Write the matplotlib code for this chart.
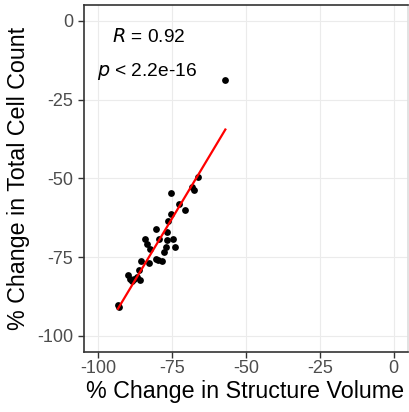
import numpy as np
import matplotlib
matplotlib.use("Agg")
import matplotlib.pyplot as plt

plt.rcParams['font.family'] = ['Liberation Sans', 'DejaVu Sans']

structure_volume = [-92.9, -93.4, -66.3, -75.5, -67.7, -68.2, -72.8, -70.8, -75.5, -76.4,
                    -76.7, -80.5, -84.2, -83.7, -82.6, -79.5, -76.7, -74.7, -74.2, -77.2,
                    -77.8, -79.8, -78.6, -80.5, -85.6, -82.8, -86.4, -90.0, -89.3, -87.8,
                    -85.9, -88.7, -87.0, -57.0]
cell_count = [-90.7, -90.3, -49.6, -54.6, -53.8, -52.9, -58.1, -59.9, -61.2, -63.4,
              -66.9, -66.2, -69.2, -70.8, -72.4, -69.2, -69.7, -69.4, -71.7, -71.7,
              -73.5, -75.8, -76.3, -75.6, -76.1, -77.0, -79.1, -80.6, -81.9, -81.9,
              -82.2, -82.7, -81.2, -18.8]
ticks = [-100, -75, -50, -25, 0]
tick_labels = ['-100', '-75', '-50', '-25', '0']

x = np.array(structure_volume)
y = np.array(cell_count)

fig = plt.figure(figsize=(4.09, 4.12), dpi=100)
ax = fig.add_axes([83.7/409, 1-351.7/412, (408.3-83.7)/409, (351.7-5)/412])

ax.scatter(x, y, s=24, color='black', zorder=3, linewidths=0)
slope, intercept = np.polyfit(x, y, 1)
xs = np.array([x.min(), x.max()])
ax.plot(xs, slope*xs + intercept, color='red', lw=1.6, zorder=4)

ax.set_xlim(-105, 5)
ax.set_ylim(-105, 5)
ax.set_xticks(ticks)
ax.set_xticklabels(tick_labels)
ax.set_yticks(ticks)
ax.set_yticklabels(tick_labels)
ax.grid(True, color='#EBEBEB', lw=0.8)
ax.set_axisbelow(True)
for s in ax.spines.values():
    s.set_color('#333333')
    s.set_linewidth(1.2)
ax.spines['right'].set_color('#DDDDDD')
ax.tick_params(colors='#333333', labelcolor='#4D4D4D', labelsize=13, length=4,
               width=1, direction='out')
ax.tick_params(axis='x', pad=2.3)
ax.tick_params(axis='y', pad=3.6)
ax.set_xlabel('% Change in Structure Volume', fontsize=16.75, color='black')
ax.set_ylabel('% Change in Total Cell Count', fontsize=16.75, color='black')
ax.xaxis.set_label_coords(0.497, -0.083)
ax.yaxis.set_label_coords(-0.165, 0.5)

ax.text(-95.5, -5, r'$\it{R}$ = 0.92', fontsize=13.8, va='center', ha='left')
ax.text(-100.5, -16, r'$\it{p}$ < 2.2e-16', fontsize=13.8, va='center', ha='left')

fig.savefig('out.png', dpi=100)
